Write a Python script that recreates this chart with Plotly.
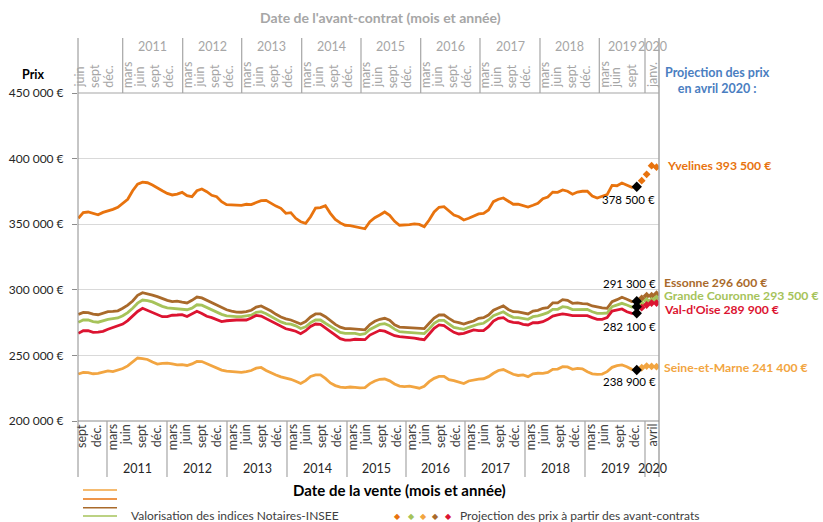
import plotly.graph_objects as go

# ---------------- data (prix en milliers d'euros) ----------------
# x = index du mois : 0 = juillet 2010 ... 113 = décembre 2019
months = list(range(114))
proj_months = [114, 115, 116, 117]          # janvier -> avril 2020
last_month = 113

yvelines = [354.5, 358.8, 359.3, 358.2, 357.2, 359.0, 360.0, 361.3, 362.9, 365.9,
            369.0, 375.5, 380.5, 382.0, 381.6, 379.9, 377.5, 375.5, 373.5, 372.3,
            373.0, 374.3, 371.7, 371.0, 375.5, 376.8, 374.8, 372.0, 371.0, 367.2,
            364.9, 364.6, 364.4, 364.4, 365.2, 364.9, 366.5, 368.0, 368.2, 365.9,
            363.8, 362.1, 358.3, 358.8, 354.5, 351.9, 350.7, 355.7, 362.3, 362.6,
            364.1, 358.3, 353.7, 351.0, 349.2, 348.9, 348.2, 347.3, 346.5, 351.9,
            355.0, 357.0, 359.3, 356.8, 352.2, 349.2, 349.3, 349.6, 350.2, 349.8,
            348.1, 353.2, 359.3, 362.9, 363.4, 360.3, 357.0, 355.7, 353.2, 354.5,
            356.3, 357.8, 358.3, 360.8, 367.2, 369.0, 370.0, 367.7, 365.2, 365.2,
            363.9, 363.1, 364.4, 365.9, 369.5, 370.7, 374.5, 374.3, 376.1, 375.1,
            372.8, 374.5, 375.1, 375.1, 371.5, 370.0, 371.3, 372.5, 379.6, 379.3,
            381.4, 379.6, 378.1, 378.5]

essonne = [281.3, 282.8, 282.6, 281.5, 281.0, 282.3, 283.3, 283.5, 284.0, 285.9,
           288.3, 291.5, 295.8, 297.8, 297.0, 296.0, 294.8, 293.3, 292.0, 291.0,
           291.3, 290.6, 290.0, 292.0, 294.5, 293.8, 292.0, 290.5, 289.0, 286.7,
           284.8, 283.8, 283.0, 282.9, 283.3, 284.4, 286.8, 287.7, 286.0, 283.8,
           281.3, 279.2, 277.8, 277.0, 275.5, 273.9, 275.8, 279.3, 281.6, 281.6,
           279.5, 276.3, 273.6, 271.5, 270.4, 270.4, 270.1, 269.3, 269.5, 273.5,
           276.0, 277.5, 278.3, 276.8, 273.4, 271.6, 271.3, 271.1, 270.7, 270.2,
           270.4, 274.5, 278.5, 280.8, 280.8, 278.2, 275.8, 274.9, 273.9, 275.2,
           276.2, 278.3, 278.7, 280.8, 284.4, 286.1, 287.7, 285.0, 283.3, 283.2,
           282.3, 281.6, 283.8, 284.4, 285.9, 286.4, 290.0, 290.0, 292.5, 292.0,
           289.7, 290.0, 289.4, 289.2, 287.7, 286.7, 286.2, 285.9, 291.0, 292.5,
           294.3, 292.8, 291.0, 291.3]

grande_couronne = [275.2, 277.0, 277.0, 275.8, 275.3, 276.5, 277.5, 278.0, 278.5, 280.3,
                   282.6, 286.0, 289.8, 292.2, 291.8, 290.8, 289.0, 287.4, 286.2, 285.9,
                   285.7, 285.3, 284.8, 286.0, 288.6, 288.3, 286.4, 284.6, 283.2, 281.3,
                   280.2, 279.6, 279.5, 279.6, 280.0, 280.6, 282.8, 283.3, 281.8, 279.8,
                   277.9, 275.5, 274.3, 273.8, 272.5, 270.5, 271.8, 275.0, 277.0, 277.0,
                   274.5, 272.2, 269.6, 267.5, 266.8, 266.8, 266.8, 265.8, 266.5, 269.8,
                   272.0, 273.6, 274.2, 272.6, 270.0, 268.1, 267.8, 267.6, 267.4, 267.0,
                   266.6, 270.2, 274.5, 276.7, 276.7, 273.9, 271.4, 270.6, 269.9, 271.4,
                   272.7, 273.9, 274.5, 277.0, 280.3, 282.1, 283.3, 280.8, 279.0, 278.8,
                   278.3, 277.5, 279.5, 280.1, 281.3, 282.6, 285.1, 285.1, 287.1, 286.6,
                   284.9, 285.1, 285.0, 285.0, 283.3, 282.1, 282.1, 282.3, 287.1, 288.4,
                   289.7, 288.4, 286.9, 287.1]

val_doise = [266.8, 268.8, 268.8, 267.6, 267.8, 268.3, 269.9, 271.2, 272.4, 273.9,
             276.5, 280.0, 283.5, 285.9, 284.3, 282.5, 280.5, 279.5, 279.5, 280.6,
             280.8, 281.1, 279.6, 281.6, 283.7, 282.0, 279.8, 278.8, 277.5, 275.8,
             276.4, 276.8, 277.0, 277.0, 277.0, 278.5, 280.5, 280.0, 278.0, 276.2,
             273.9, 271.8, 270.3, 269.5, 268.4, 266.5, 268.8, 272.0, 273.9, 273.7,
             271.0, 268.0, 265.0, 262.8, 261.7, 261.7, 262.3, 262.0, 262.0, 265.5,
             267.6, 269.1, 268.5, 266.8, 265.0, 264.3, 264.0, 263.7, 263.2, 262.5,
             262.0, 266.3, 270.6, 273.2, 272.7, 270.1, 267.6, 266.3, 266.8, 268.1,
             269.4, 268.9, 268.9, 271.9, 276.2, 278.3, 278.8, 276.2, 275.2, 274.9,
             273.7, 273.2, 274.9, 274.9, 275.7, 277.5, 280.0, 280.8, 281.6, 281.1,
             280.3, 280.3, 280.3, 280.3, 278.8, 277.5, 277.5, 278.8, 283.8, 284.6,
             285.4, 283.3, 282.1, 282.1]

seine_et_marne = [235.8, 237.1, 236.8, 236.0, 236.3, 237.5, 238.2, 237.6, 238.8, 240.0,
                  242.0, 245.3, 248.0, 247.6, 246.9, 245.0, 243.4, 243.9, 244.1, 243.5,
                  242.8, 242.9, 242.3, 243.5, 245.4, 245.3, 243.8, 241.9, 240.7, 238.8,
                  238.0, 237.7, 237.0, 237.0, 237.6, 238.5, 240.3, 240.8, 238.5, 236.5,
                  235.1, 233.6, 232.8, 231.8, 230.3, 228.6, 230.8, 234.0, 235.1, 235.1,
                  232.5, 229.0, 227.0, 225.8, 225.4, 225.9, 225.6, 225.2, 225.5, 228.5,
                  230.5, 231.8, 232.0, 230.6, 228.2, 226.6, 226.2, 226.6, 225.8, 225.0,
                  226.5, 230.0, 232.5, 234.0, 234.0, 231.5, 230.8, 229.5, 228.6, 230.5,
                  231.4, 232.0, 232.2, 233.8, 236.4, 238.5, 239.2, 237.4, 235.6, 234.7,
                  235.1, 233.8, 236.0, 236.4, 236.3, 237.0, 239.4, 239.6, 241.4, 241.2,
                  239.4, 240.1, 239.8, 237.5, 236.0, 235.6, 235.8, 237.6, 240.9, 242.2,
                  242.7, 241.4, 239.4, 238.9]

proj_yvelines = [383.2, 388.0, 394.6, 393.5]
proj_essonne = [293.5, 295.5, 295.5, 296.6]
proj_grande_couronne = [289.2, 291.7, 291.7, 293.5]
proj_val_doise = [286.4, 288.4, 289.9, 289.9]
proj_seine_et_marne = [240.6, 241.9, 241.6, 241.4]

y_ticks = [200, 250, 300, 350, 400, 450]
y_tick_labels = ['200 000 €', '250 000 €', '300 000 €', '350 000 €', '400 000 €', '450 000 €']

years = ['2011', '2012', '2013', '2014', '2015', '2016', '2017', '2018', '2019']
month_labels = ['mars', 'juin', 'sept', 'déc.']
sale_first_labels = ['sept', 'déc.']
contract_first_labels = ['juin', 'sept', 'déc.']
contract_2019_labels = ['mars', 'juin', 'sept']

# ---------------- styles / layout ----------------
FONT = 'Lato, Carlito, Calibri, sans-serif'
C_YV, C_ES, C_GC, C_VO, C_SM = '#E8730E', '#A96A2B', '#A6C35A', '#DC1431', '#F2A541'
BLUE, GREY, DARK = '#4A7EC1', '#A6A6A6', '#404040'

L, R, T, B = 78, 659, 93, 421
W, H = 823, 522


def px(xp):
    return (xp - L) / (R - L)


def py(yp):
    return (B - yp) / (B - T)


X_RANGE = [-0.06, 117.5]
PX_PER_M = (R - L) / (X_RANGE[1] - X_RANGE[0])


def kx(xp):
    return X_RANGE[0] + (xp - L) / PX_PER_M


# year boundaries (pixel positions of the category separators)
bottom_sep = [kx(p) for p in [107, 167, 227, 287, 347, 406, 465, 525, 585, 645]]
top_sep = [kx(p) for p in [122.7, 182.7, 241.7, 301.7, 361, 420.7, 480, 540, 599.3, 645]]
bottom_off = [5.3 / PX_PER_M, 18.7 / PX_PER_M, 34 / PX_PER_M, 49.7 / PX_PER_M]
top_off = [4.3 / PX_PER_M, 16.3 / PX_PER_M, 31.3 / PX_PER_M, 45.6 / PX_PER_M]
year_w = 12.14

fig = go.Figure()

series = [
    ('Yvelines', yvelines, proj_yvelines, C_YV),
    ('Essonne', essonne, proj_essonne, C_ES),
    ('Grande Couronne', grande_couronne, proj_grande_couronne, C_GC),
    ("Val-d'Oise", val_doise, proj_val_doise, C_VO),
    ('Seine-et-Marne', seine_et_marne, proj_seine_et_marne, C_SM),
]

for name, vals, proj, col in series:
    fig.add_trace(go.Scatter(x=months, y=vals, mode='lines', name=name,
                             line=dict(color=col, width=2.8), hoverinfo='skip',
                             showlegend=False))
for name, vals, proj, col in series:
    fig.add_trace(go.Scatter(x=proj_months, y=proj, mode='markers', name=name + ' projection',
                             marker=dict(symbol='diamond', size=6, color=col),
                             hoverinfo='skip', showlegend=False))
fig.add_trace(go.Scatter(x=[last_month] * len(series), y=[s[1][-1] for s in series],
                         mode='markers', marker=dict(symbol='diamond', size=8, color='black'),
                         hoverinfo='skip', showlegend=False))

shapes = []
ann = []


def line(x0, y0, x1, y1, color, width=1, xref='paper', yref='paper'):
    shapes.append(dict(type='line', xref=xref, yref=yref, x0=x0, x1=x1, y0=y0, y1=y1,
                       line=dict(color=color, width=width)))


def text(x, y, s, size=12, color=DARK, xanchor='center', yanchor='middle', bold=False,
         angle=0, xref='paper', yref='paper'):
    ann.append(dict(x=x, y=y, xref=xref, yref=yref, text=('<b>%s</b>' % s) if bold else s,
                    showarrow=False, xanchor=xanchor, yanchor=yanchor, textangle=angle,
                    font=dict(family=FONT, size=size, color=color), borderpad=0))


def euro(v):
    return '{:,}'.format(int(round(v * 1000))).replace(',', ' ') + ' €'


# frame lines
line(0, py(477), 0, py(38), '#8C8C8C', 1)
line(1, py(477), 1, py(38), GREY, 1.5)
line(0, 1, 1, 1, GREY, 1.2)
line(0, 0, 1, 0, '#8C8C8C', 1.2)

# separators
for s in bottom_sep:
    line(s, 0, s, py(477), GREY, 1.2, xref='x')
for s in top_sep:
    line(s, 1, s, py(38), GREY, 1.2, xref='x')

# bottom axis (date de la vente)
for j, lab in enumerate(sale_first_labels):
    text(bottom_sep[0] - year_w + bottom_off[2 + j], py(423), lab, 12.5, DARK,
         yanchor='top', angle=-90, xref='x')
for i, yr in enumerate(years):
    for j, lab in enumerate(month_labels):
        text(bottom_sep[i] + bottom_off[j], py(423), lab, 12.5, DARK,
             yanchor='top', angle=-90, xref='x')
    text((bottom_sep[i] + bottom_sep[i + 1]) / 2, py(468), yr, 12.5, '#262626', xref='x')
text((bottom_sep[-1] + X_RANGE[1]) / 2, py(423), 'avril', 12.5, DARK, yanchor='top',
     angle=-90, xref='x')
text((bottom_sep[-1] + X_RANGE[1]) / 2, py(468), '2020', 12.5, '#262626', xref='x')

# top axis (date de l'avant-contrat)
for j, lab in enumerate(contract_first_labels):
    text(top_sep[0] - year_w + top_off[1 + j], py(89), lab, 12.5, GREY,
         yanchor='bottom', angle=-90, xref='x')
for i, yr in enumerate(years):
    labs = contract_2019_labels if yr == '2019' else month_labels
    for j, lab in enumerate(labs):
        text(top_sep[i] + top_off[j], py(89), lab, 12.5, GREY,
             yanchor='bottom', angle=-90, xref='x')
    text((top_sep[i] + top_sep[i + 1]) / 2, py(46.5), yr, 12.5, GREY, xref='x')
text((top_sep[-1] + X_RANGE[1]) / 2, py(89), 'janv.', 12.5, GREY, yanchor='bottom',
     angle=-90, xref='x')
text((top_sep[-1] + X_RANGE[1]) / 2, py(46.5), '2020', 12.5, GREY, xref='x')

# titles
text(px(381), py(17), "Date de l'avant-contrat (mois et année)", 14, GREY, bold=True)
text(px(399), py(490), 'Date de la vente (mois et année)', 15, '#000000', bold=True)
text(px(33), py(74), 'Prix', 12.5, '#000000', bold=True)
text(px(718), py(80), 'Projection des prix<br>en avril 2020 :', 12.5, BLUE, bold=True)

# values at the end of the known series
lab_pos = {'Yvelines': (656, 199), 'Essonne': (657, 283), "Val-d'Oise": (657, 326),
           'Seine-et-Marne': (657, 381)}
for name, vals, proj, col in series:
    if name in lab_pos:
        xp, yp = lab_pos[name]
        text(px(xp), py(yp), euro(vals[-1]), 11.5, '#000000', xanchor='right')

# projection labels
proj_pos = {'Yvelines': (666, 165), 'Essonne': (663, 282.5), 'Grande Couronne': (663, 295),
            "Val-d'Oise": (663, 309.5), 'Seine-et-Marne': (663, 367)}
for name, vals, proj, col in series:
    xp, yp = proj_pos[name]
    text(px(xp), py(yp), '%s %s' % (name, euro(proj[-1])), 12.2, col, xanchor='left', bold=True)

# legend
for yp, col in zip([490, 499, 507.7, 516], [C_SM, C_YV, C_ES, C_GC]):
    line(px(83), py(yp), px(117), py(yp), col, 1.5)
text(px(130), py(515.5), 'Valorisation des indices Notaires-INSEE', 12, DARK, xanchor='left')
for xp, col in zip([398, 411, 423, 435, 448], [C_YV, C_GC, C_SM, C_ES, C_VO]):
    text(px(xp), py(516), '◆', 8, col)
text(px(459), py(515.5), 'Projection des prix à partir des avant-contrats', 12, DARK,
     xanchor='left')

fig.update_layout(
    width=W, height=H, template='none',
    margin=dict(l=L, r=W - R, t=T, b=H - B, pad=0),
    paper_bgcolor='white', plot_bgcolor='white',
    font=dict(family=FONT, size=12, color=DARK),
    showlegend=False,
    xaxis=dict(range=X_RANGE, visible=False, automargin=False),
    yaxis=dict(range=[200, 450], tickvals=y_ticks, ticktext=y_tick_labels,
               showgrid=True, gridcolor='#D9D9D9', gridwidth=1, zeroline=False,
               showline=False, ticks='outside', ticklen=5, tickcolor='#8C8C8C',
               ticklabelstandoff=6,
               tickfont=dict(family=FONT, size=12, color='#262626'), automargin=False),
    shapes=shapes, annotations=ann,
)

fig.write_html('out.html', config={'displayModeBar': False},
               post_script="document.body.style.margin='0';document.body.style.padding='0';")
